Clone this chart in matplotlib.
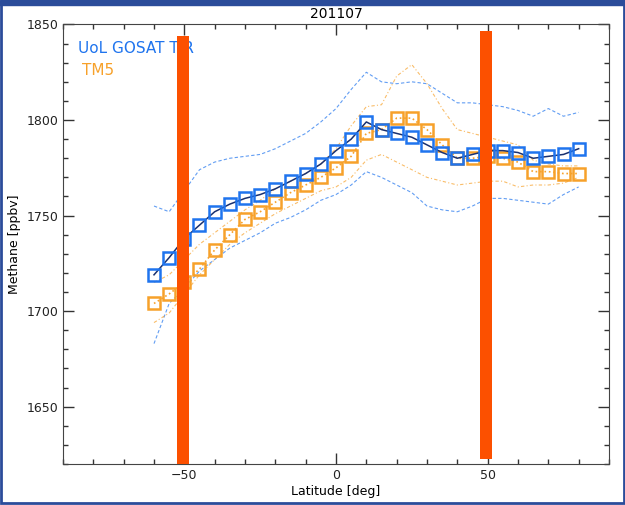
import numpy as np
import matplotlib
matplotlib.use('Agg')
import matplotlib.pyplot as plt
from matplotlib.patches import Rectangle
from matplotlib.ticker import MultipleLocator

# latitudes (deg)
lat = [-60, -55, -50, -45, -40, -35, -30, -25, -20, -15, -10, -5, 0, 5, 10,
       15, 20, 25, 30, 35, 40, 45, 50, 55, 60, 65, 70, 75, 80]

# UoL GOSAT TIR mean and spread
gosat = [1719, 1728, 1738, 1745, 1752, 1756, 1759, 1761, 1764, 1768, 1772, 1777, 1784, 1790, 1799,
         1795, 1793, 1791, 1787, 1783, 1780, 1782, 1784, 1784, 1783, 1780, 1781, 1782, 1785]
gosat_hi = [1755, 1752, 1763, 1774, 1778, 1780, 1781, 1782, 1785, 1789, 1793, 1799, 1806, 1816, 1825,
            1820, 1819, 1820, 1819, 1814, 1809, 1809, 1808, 1807, 1805, 1802, 1806, 1802, 1804]
gosat_lo = [1683, 1704, 1712, 1721, 1727, 1733, 1737, 1741, 1746, 1749, 1753, 1758, 1761, 1766, 1773,
            1770, 1766, 1762, 1755, 1753, 1752, 1755, 1759, 1759, 1758, 1757, 1756, 1761, 1765]

# TM5 mean and spread
tm5 = [1704, 1709, 1715, 1722, 1732, 1740, 1748, 1752, 1757, 1762, 1766, 1770, 1775, 1781, 1793,
       1795, 1801, 1801, 1795, 1787, 1780, 1780, 1781, 1780, 1778, 1773, 1773, 1772, 1772]
tm5_hi = [1715, 1719, 1727, 1735, 1741, 1747, 1753, 1758, 1764, 1768, 1772, 1777, 1785, 1797, 1807,
          1808, 1823, 1829, 1819, 1806, 1795, 1793, 1791, 1789, 1787, 1779, 1777, 1776, 1776]
tm5_lo = [1694, 1699, 1709, 1719, 1727, 1735, 1741, 1746, 1751, 1755, 1759, 1763, 1765, 1770, 1779,
          1782, 1778, 1774, 1770, 1768, 1766, 1767, 1768, 1768, 1765, 1766, 1766, 1767, 1770]

# orange bars
bar_lat = [-50.5, 49.5]
bar_top = [1844, 1846.5]
bar_bottom = [1620, 1622.5]

blue = '#1f74ee'
orange = '#f7a12a'

fig = plt.figure(figsize=(6.25, 5.05), dpi=100)
ax = fig.add_axes([0.1008, 0.0812, 0.8736, 0.8703])

# spread lines
ax.plot(lat, gosat_hi, color=blue, lw=0.8, ls=(0, (3, 2)), alpha=0.7)
ax.plot(lat, gosat_lo, color=blue, lw=0.8, ls=(0, (3, 2)), alpha=0.7)
ax.plot(lat, tm5_hi, color=orange, lw=0.8, ls=(0, (3, 2, 1, 2)), alpha=0.7)
ax.plot(lat, tm5_lo, color=orange, lw=0.8, ls=(0, (3, 2, 1, 2)), alpha=0.7)

# means
ax.plot(lat, tm5, color=orange, lw=1.2, ls=':', marker='s', ms=8.5,
        mfc='none', mec=orange, mew=1.8)
ax.plot(lat, gosat, color='#1a3170', lw=1.1, marker='s', ms=8.5,
        mfc='none', mec=blue, mew=1.8)

ax.bar(bar_lat, np.array(bar_top) - np.array(bar_bottom), bottom=bar_bottom,
       width=4, color='#fc5000', zorder=5)

ax.set_xlim(-90, 90)
ax.set_ylim(1620, 1850)
ax.xaxis.set_major_locator(MultipleLocator(50))
ax.xaxis.set_minor_locator(MultipleLocator(10))
ax.yaxis.set_major_locator(MultipleLocator(50))
ax.yaxis.set_minor_locator(MultipleLocator(10))
ax.tick_params(which='both', direction='in', top=True, right=True,
               labelsize=9, colors='#333333', labelcolor='#222222')
ax.tick_params(which='major', length=8, width=1)
ax.tick_params(which='minor', length=3.5, width=1)
for s in ax.spines.values():
    s.set_color('#444444')

ax.set_xlabel('Latitude [deg]', fontsize=9, labelpad=2)
ax.set_ylabel('Methane [ppbv]', fontsize=9)
ax.set_title('201107', fontsize=10, pad=5)

ax.text(0.027, 0.946, 'UoL GOSAT TIR', color=blue, fontsize=11, va='center',
        transform=ax.transAxes, zorder=1)
ax.text(0.034, 0.896, 'TM5', color=orange, fontsize=11, va='center',
        transform=ax.transAxes, zorder=1)

# slide frame
frame = '#2b4c9a'
fig.patches.append(Rectangle((0, 0.99), 1, 0.01, transform=fig.transFigure, color=frame))
fig.patches.append(Rectangle((0.0015, 0.003), 0.997, 0.99, transform=fig.transFigure,
                             fill=False, edgecolor=frame, lw=2))

fig.savefig('out.png', dpi=100)
